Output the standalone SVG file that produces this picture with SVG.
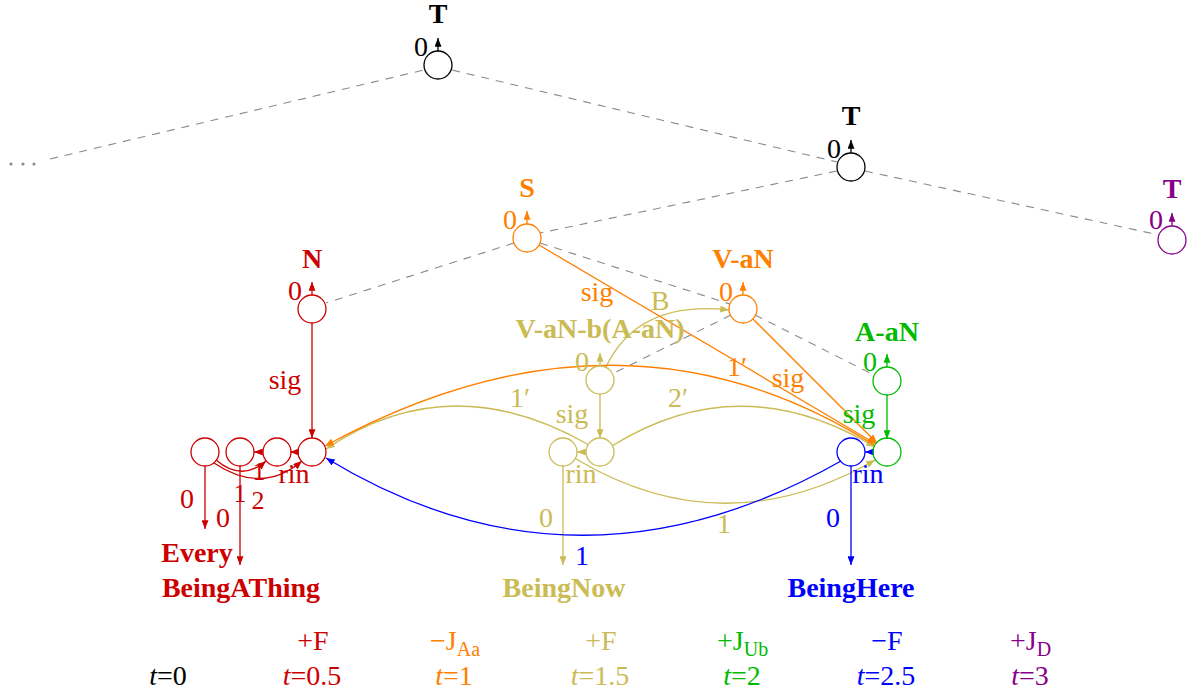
<svg xmlns="http://www.w3.org/2000/svg" width="1191" height="694" viewBox="0 0 1191 694">
<style>
text{font-family:"Liberation Serif","Times New Roman",serif;font-size:28px;text-anchor:middle}
.b{font-weight:bold}
.sub{font-size:20px}
.it{font-style:italic}
.sm{font-size:26px}
circle{fill:none;stroke-width:1.3}
.ln{fill:none;stroke-width:1.3}
.dash{fill:none;stroke:#8a8a8a;stroke-width:1.1;stroke-dasharray:8 7}
.dot{fill:#8a8a8a;stroke:none}
.k{fill:#000}.kS{stroke:#000}
.r{fill:#cc0000}.rS{stroke:#cc0000}
.o{fill:#ff8000}.oS{stroke:#ff8000}
.y{fill:#cbbb55}.yS{stroke:#cbbb55}
.g{fill:#00bb00}.gS{stroke:#00bb00}
.u{fill:#0000ff}.uS{stroke:#0000ff}
.p{fill:#880088}.pS{stroke:#880088}
</style>
<defs>
<marker id="ak" viewBox="0 0 10 8" refX="10" refY="4" markerWidth="9" markerHeight="7" markerUnits="userSpaceOnUse" orient="auto"><path d="M0,0 L10,4 L0,8 z" fill="#000"/></marker>
<marker id="ar" viewBox="0 0 10 8" refX="10" refY="4" markerWidth="9" markerHeight="7" markerUnits="userSpaceOnUse" orient="auto"><path d="M0,0 L10,4 L0,8 z" fill="#cc0000"/></marker>
<marker id="ao" viewBox="0 0 10 8" refX="10" refY="4" markerWidth="9" markerHeight="7" markerUnits="userSpaceOnUse" orient="auto"><path d="M0,0 L10,4 L0,8 z" fill="#ff8000"/></marker>
<marker id="ay" viewBox="0 0 10 8" refX="10" refY="4" markerWidth="9" markerHeight="7" markerUnits="userSpaceOnUse" orient="auto"><path d="M0,0 L10,4 L0,8 z" fill="#cbbb55"/></marker>
<marker id="ag" viewBox="0 0 10 8" refX="10" refY="4" markerWidth="9" markerHeight="7" markerUnits="userSpaceOnUse" orient="auto"><path d="M0,0 L10,4 L0,8 z" fill="#00bb00"/></marker>
<marker id="au" viewBox="0 0 10 8" refX="10" refY="4" markerWidth="9" markerHeight="7" markerUnits="userSpaceOnUse" orient="auto"><path d="M0,0 L10,4 L0,8 z" fill="#0000ff"/></marker>
<marker id="ap" viewBox="0 0 10 8" refX="10" refY="4" markerWidth="9" markerHeight="7" markerUnits="userSpaceOnUse" orient="auto"><path d="M0,0 L10,4 L0,8 z" fill="#880088"/></marker>
</defs>
<rect width="1191" height="694" fill="#fff"/>

<g id="tree-dashes">
<circle cx="11" cy="164" r="1.6" class="dot"/>
<circle cx="23" cy="164" r="1.6" class="dot"/>
<circle cx="34" cy="164" r="1.6" class="dot"/>
<path class="dash" d="M50,159 L424,70"/>
<path class="dash" d="M452,70 L837,162"/>
<path class="dash" d="M837,171 L540,233"/>
<path class="dash" d="M865,171 L1159,235"/>
<path class="dash" d="M514,243 L326,303"/>
<path class="dash" d="M540,243 L730,304"/>
<path class="dash" d="M755,315 L874,375"/>
<path class="dash" d="M731,315 L612,374"/>
</g>

<g id="connectors">
<path class="ln rS" d="M312,323 L312,438" marker-end="url(#ar)"/>
<path class="ln rS" d="M298,452 L290,452" marker-end="url(#ar)"/>
<path class="ln rS" d="M263,452 L254,452" marker-end="url(#ar)"/>
<path class="ln rS" d="M216,460 Q242,482 266,461" marker-end="url(#ar)"/>
<path class="ln rS" d="M214,463 Q262,495 302,461" marker-end="url(#ar)"/>
<path class="ln rS" d="M205,466 L205,529" marker-end="url(#ar)"/>
<path class="ln rS" d="M240,466 L240,565" marker-end="url(#ar)"/>
<path class="ln yS" d="M600,394 L600,438" marker-end="url(#ay)"/>
<path class="ln yS" d="M606,367 Q638,300 729,310" marker-end="url(#ay)"/>
<path class="ln yS" d="M589,445 Q450,365 326,449" marker-end="url(#ay)"/>
<path class="ln yS" d="M612,446 Q740,366 875,447" marker-end="url(#ay)"/>
<path class="ln yS" d="M576,459 Q724,547 875,460" marker-end="url(#ay)"/>
<path class="ln yS" d="M586,452 L577,452" marker-end="url(#ay)"/>
<path class="ln yS" d="M563,466 L563,565" marker-end="url(#ay)"/>
<path class="ln oS" d="M539,245 L876,444" marker-end="url(#ao)"/>
<path class="ln oS" d="M753,319 L877,443" marker-end="url(#ao)"/>
<path class="ln oS" d="M874,445 Q620,285 325,446" marker-end="url(#ao)"/>
<path class="ln gS" d="M887,395 L887,439" marker-end="url(#ag)"/>
<path class="ln uS" d="M841,461 Q577,611 326,458" marker-end="url(#au)"/>
<path class="ln uS" d="M873,452 L865,452" marker-end="url(#au)"/>
<path class="ln uS" d="M851,466 L851,565" marker-end="url(#au)"/>
</g>

<g id="node-T1">
<circle cx="438" cy="65" r="14" class="kS"/>
<path class="ln kS" d="M438,51 L438,38" marker-end="url(#ak)"/>
<text x="438" y="23" class="b k">T</text>
<text x="421" y="56" class="k">0</text>
</g>
<g id="node-T2">
<circle cx="851" cy="167" r="14" class="kS"/>
<path class="ln kS" d="M851,153 L851,140" marker-end="url(#ak)"/>
<text x="851" y="125" class="b k">T</text>
<text x="834" y="158" class="k">0</text>
</g>
<g id="node-T3">
<circle cx="1172" cy="240" r="14" class="pS"/>
<path class="ln pS" d="M1172,226 L1172,213" marker-end="url(#ap)"/>
<text x="1172" y="198" class="b p">T</text>
<text x="1156" y="229" class="p">0</text>
</g>
<g id="node-S">
<circle cx="527" cy="238" r="14" class="oS"/>
<path class="ln oS" d="M527,224 L527,211" marker-end="url(#ao)"/>
<text x="527" y="197" class="b o">S</text>
<text x="510" y="229" class="o">0</text>
</g>
<g id="node-N">
<circle cx="312" cy="309" r="14" class="rS"/>
<path class="ln rS" d="M312,295 L312,282" marker-end="url(#ar)"/>
<text x="312" y="268" class="b r">N</text>
<text x="295" y="300" class="r">0</text>
</g>
<g id="node-VaN">
<circle cx="743" cy="309" r="14" class="oS"/>
<path class="ln oS" d="M743,295 L743,282" marker-end="url(#ao)"/>
<text x="743" y="268" class="b o">V-aN</text>
<text x="726" y="301" class="o">0</text>
</g>
<g id="node-VaNb">
<circle cx="600" cy="380" r="14" class="yS"/>
<path class="ln yS" d="M600,366 L600,353" marker-end="url(#ay)"/>
<text x="600" y="338" class="b y">V-aN-b(A-aN)</text>
<text x="582" y="371" class="y">0</text>
</g>
<g id="node-AaN">
<circle cx="887" cy="381" r="14" class="gS"/>
<path class="ln gS" d="M887,367 L887,354" marker-end="url(#ag)"/>
<text x="887" y="341" class="b g">A-aN</text>
<text x="870" y="371" class="g">0</text>
</g>

<g id="node-red-row">
<circle cx="205" cy="452" r="14" class="rS"/>
<circle cx="240" cy="452" r="14" class="rS"/>
<circle cx="277" cy="452" r="14" class="rS"/>
<circle cx="312" cy="452" r="14" class="rS"/>
</g>
<g id="node-olive-row">
<circle cx="563" cy="452" r="14" class="yS"/>
<circle cx="600" cy="452" r="14" class="yS"/>
</g>
<g id="node-blue">
<circle cx="851" cy="452" r="14" class="uS"/>
</g>
<g id="node-green">
<circle cx="887" cy="452" r="14" class="gS"/>
</g>

<g id="edge-labels">
<text x="285" y="389" class="r">sig</text>
<text x="259" y="480" class="r sm">1</text>
<text x="294" y="483" class="r">rin</text>
<text x="240" y="502" class="r sm">1</text>
<text x="258" y="509" class="r sm">2</text>
<text x="187" y="508" class="r">0</text>
<text x="223" y="527" class="r">0</text>
<text x="597" y="301" class="o">sig</text>
<text x="660" y="310" class="y">B</text>
<text x="737" y="376" class="o">1′</text>
<text x="788" y="387" class="o">sig</text>
<text x="520" y="407" class="y">1′</text>
<text x="678" y="407" class="y">2′</text>
<text x="572" y="423" class="y">sig</text>
<text x="859" y="423" class="g">sig</text>
<text x="581" y="483" class="y">rin</text>
<text x="868" y="483" class="u">rin</text>
<text x="546" y="527" class="y">0</text>
<text x="724" y="533" class="y">1</text>
<text x="582" y="565" class="u">1</text>
<text x="833" y="527" class="u">0</text>
</g>

<g id="targets">
<text x="197" y="562" class="b r">Every</text>
<text x="241" y="597" class="b r">BeingAThing</text>
<text x="564" y="597" class="b y">BeingNow</text>
<text x="851" y="597" class="b u">BeingHere</text>
</g>

<g id="timeline">
<text x="313" y="650" class="r">+F</text>
<text x="430" y="650" class="o" style="text-anchor:start">−J<tspan class="sub" dy="6">Aa</tspan></text>
<text x="601" y="650" class="y">+F</text>
<text x="717" y="650" class="g" style="text-anchor:start">+J<tspan class="sub" dy="6">Ub</tspan></text>
<text x="887" y="650" class="u">−F</text>
<text x="1010" y="650" class="p" style="text-anchor:start">+J<tspan class="sub" dy="6">D</tspan></text>
<text x="168" y="685" class="k"><tspan class="it">t</tspan>=0</text>
<text x="312" y="685" class="r"><tspan class="it">t</tspan>=0.5</text>
<text x="454" y="685" class="o"><tspan class="it">t</tspan>=1</text>
<text x="600" y="685" class="y"><tspan class="it">t</tspan>=1.5</text>
<text x="742" y="685" class="g"><tspan class="it">t</tspan>=2</text>
<text x="886" y="685" class="u"><tspan class="it">t</tspan>=2.5</text>
<text x="1030" y="685" class="p"><tspan class="it">t</tspan>=3</text>
</g>
</svg>
